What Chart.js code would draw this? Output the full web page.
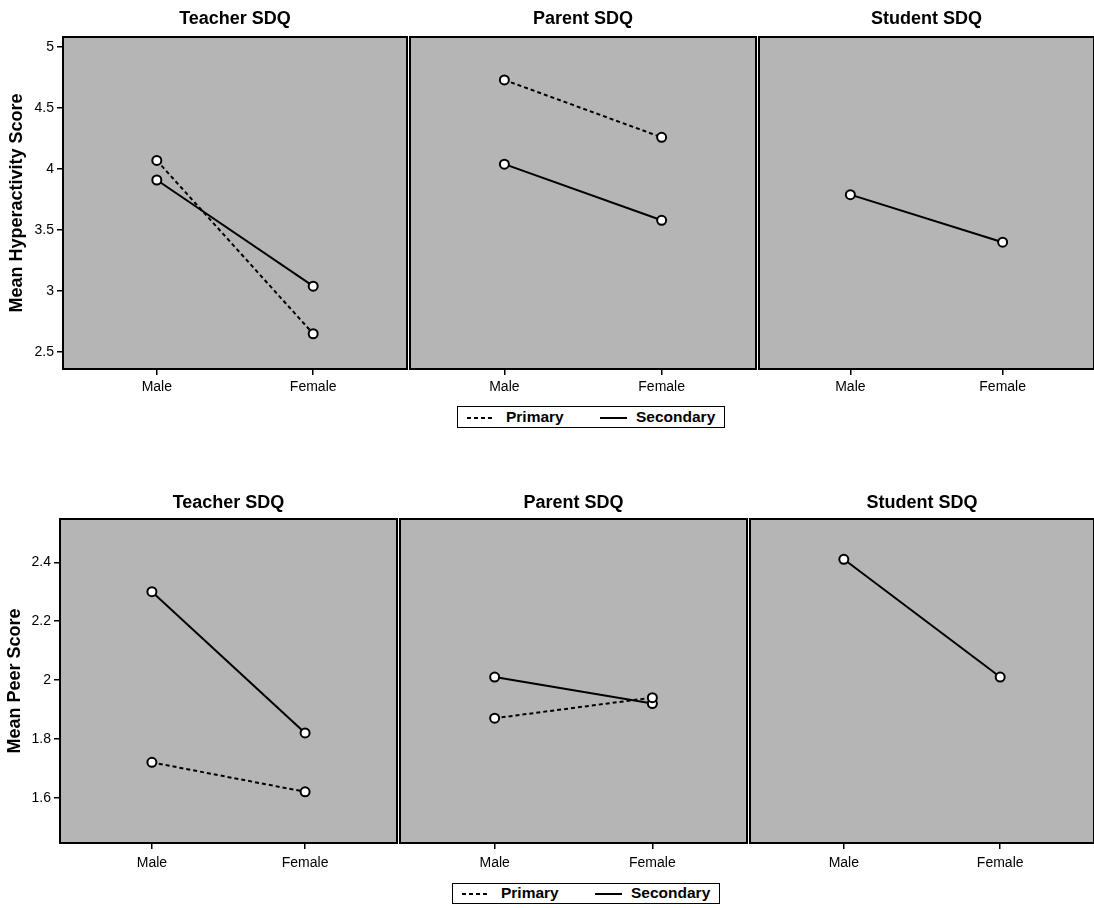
<!DOCTYPE html>
<html>
<head>
<meta charset="utf-8">
<script src="https://cdn.jsdelivr.net/npm/chart.js@4.4.0/dist/chart.umd.min.js"></script>
<style>
  body { margin: 0; background: #fff; width: 1094px; height: 908px; position: relative; overflow: hidden;
         font-family: "Liberation Sans", Arial, sans-serif; }
  canvas { position: absolute; }
  .legend { position: absolute; border: 1px solid #000; background: #fff; box-sizing: border-box;
            font-weight: bold; font-size: 15.5px; color: #000; }
  .legend span, .legend svg { position: absolute; }
</style>
</head>
<body>
<canvas id="hypTeacher" width="408" height="400" style="left:0;top:0"></canvas>
<canvas id="hypParent" width="349" height="400" style="left:408px;top:0"></canvas>
<canvas id="hypStudent" width="337" height="400" style="left:757px;top:0"></canvas>

<canvas id="peerTeacher" width="398" height="395" style="left:0;top:482px"></canvas>
<canvas id="peerParent" width="350" height="395" style="left:398px;top:482px"></canvas>
<canvas id="peerStudent" width="346" height="395" style="left:748px;top:482px"></canvas>

<div class="legend" style="left:457px;top:406px;width:268px;height:22px">
  <svg style="left:9px;top:9px" width="28" height="4"><line x1="0" y1="2" x2="28" y2="2" stroke="#000" stroke-width="2" stroke-dasharray="4,3"/></svg>
  <span style="left:48px;top:1px">Primary</span>
  <svg style="left:142px;top:9px" width="27" height="4"><line x1="0" y1="2" x2="27" y2="2" stroke="#000" stroke-width="2"/></svg>
  <span style="left:178px;top:1px">Secondary</span>
</div>
<div class="legend" style="left:452px;top:883px;width:268px;height:21px">
  <svg style="left:9px;top:8px" width="28" height="4"><line x1="0" y1="2" x2="28" y2="2" stroke="#000" stroke-width="2" stroke-dasharray="4,3"/></svg>
  <span style="left:48px;top:0px">Primary</span>
  <svg style="left:142px;top:8px" width="27" height="4"><line x1="0" y1="2" x2="27" y2="2" stroke="#000" stroke-width="2"/></svg>
  <span style="left:178px;top:0px">Secondary</span>
</div>

<script>
// categories on the x axis
const categories = ['Male', 'Female'];

// Mean Hyperactivity Score (top row)
const hypTicks = [2.5, 3, 3.5, 4, 4.5, 5];
const hypTeacherPrimary = [4.07, 2.65];
const hypTeacherSecondary = [3.91, 3.04];
const hypParentPrimary = [4.73, 4.26];
const hypParentSecondary = [4.04, 3.58];
const hypStudentSecondary = [3.79, 3.40];

// Mean Peer Score (bottom row)
const peerTicks = [1.6, 1.8, 2, 2.2, 2.4];
const peerTeacherPrimary = [1.72, 1.62];
const peerTeacherSecondary = [2.30, 1.82];
const peerParentPrimary = [1.87, 1.94];
const peerParentSecondary = [2.01, 1.92];
const peerStudentSecondary = [2.41, 2.01];

const FONT = '"Liberation Sans", Arial, sans-serif';

// gray plot background with a black frame
const framePlugin = {
  id: 'frame',
  beforeDraw(chart) {
    const { ctx, chartArea: a } = chart;
    ctx.save();
    ctx.fillStyle = '#b5b5b5';
    ctx.fillRect(a.left, a.top, a.width, a.height);
    ctx.strokeStyle = '#000';
    ctx.lineWidth = 2;
    ctx.strokeRect(a.left, a.top, a.width, a.height);
    ctx.restore();
  }
};

function lineSet(label, values, dashed) {
  return {
    label: label,
    data: values.map((v, i) => ({ x: i, y: v })),
    borderColor: '#000',
    borderWidth: 2,
    borderDash: dashed ? [4, 3] : [],
    pointRadius: 4.5,
    pointBorderWidth: 2,
    pointBackgroundColor: '#fff',
    pointBorderColor: '#000',
    tension: 0
  };
}

function makePanel(id, cfg) {
  const datasets = [];
  if (cfg.primary) datasets.push(lineSet('Primary', cfg.primary, true));
  if (cfg.secondary) datasets.push(lineSet('Secondary', cfg.secondary, false));

  return new Chart(document.getElementById(id), {
    type: 'line',
    data: { datasets: datasets },
    plugins: [framePlugin],
    options: {
      responsive: false,
      animation: false,
      layout: {
        autoPadding: false,
        padding: { left: cfg.padLeft || 0, right: cfg.padRight || 0, top: 0, bottom: 0 }
      },
      plugins: {
        legend: { display: false },
        tooltip: { enabled: false },
        title: {
          display: true,
          text: cfg.title,
          fullSize: false,
          color: '#000',
          font: { family: FONT, size: 18, weight: 'bold', lineHeight: 1.2 },
          padding: { top: cfg.titleTop, bottom: cfg.titleBottom }
        }
      },
      scales: {
        x: {
          type: 'linear',
          min: -0.6,
          max: 1.6,
          afterBuildTicks: s => { s.ticks = categories.map((c, i) => ({ value: i })); },
          afterFit: s => { s.height = cfg.xHeight; },
          grid: { drawOnChartArea: false, drawTicks: true, tickLength: 6, color: '#000', lineWidth: 1.5 },
          border: { display: false },
          ticks: {
            color: '#000',
            font: { family: FONT, size: 14 },
            padding: cfg.xPad,
            maxRotation: 0,
            autoSkip: false,
            callback: v => categories[v]
          }
        },
        y: {
          display: !!cfg.yTitle,
          min: cfg.yMin,
          max: cfg.yMax,
          afterBuildTicks: s => { s.ticks = cfg.yTicks.map(v => ({ value: v })); },
          afterFit: s => { if (cfg.yWidth) s.width = cfg.yWidth; },
          grid: { drawOnChartArea: false, drawTicks: true, tickLength: 6, color: '#000', lineWidth: 1.5 },
          border: { display: false },
          ticks: {
            color: '#000',
            font: { family: FONT, size: 14 },
            padding: 3,
            callback: v => String(Math.round(v * 10) / 10)
          },
          title: {
            display: !!cfg.yTitle,
            text: cfg.yTitle,
            color: '#000',
            font: { family: FONT, size: 18, weight: 'bold', lineHeight: 1.2 },
            padding: { top: cfg.yTitlePad || 5, bottom: 0 }
          }
        }
      }
    }
  });
}

// top row
const hypRow = { yMin: 2.361, yMax: 5.082, yTicks: hypTicks, xHeight: 31, xPad: 4, titleTop: 8.2, titleBottom: 7.2 };
makePanel('hypTeacher', Object.assign({}, hypRow, {
  title: 'Teacher SDQ', primary: hypTeacherPrimary, secondary: hypTeacherSecondary,
  yTitle: 'Mean Hyperactivity Score', yWidth: 63, yTitlePad: 6, padRight: 1
}));
makePanel('hypParent', Object.assign({}, hypRow, {
  title: 'Parent SDQ', primary: hypParentPrimary, secondary: hypParentSecondary, padLeft: 2, padRight: 1
}));
makePanel('hypStudent', Object.assign({}, hypRow, {
  title: 'Student SDQ', secondary: hypStudentSecondary, padLeft: 2, padRight: 0
}));

// bottom row
const peerRow = { yMin: 1.446, yMax: 2.547, yTicks: peerTicks, xHeight: 34, xPad: 6, titleTop: 9.9, titleBottom: 5.5 };
makePanel('peerTeacher', Object.assign({}, peerRow, {
  title: 'Teacher SDQ', primary: peerTeacherPrimary, secondary: peerTeacherSecondary,
  yTitle: 'Mean Peer Score', yWidth: 60, yTitlePad: 4, padRight: 1
}));
makePanel('peerParent', Object.assign({}, peerRow, {
  title: 'Parent SDQ', primary: peerParentPrimary, secondary: peerParentSecondary, padLeft: 2, padRight: 1
}));
makePanel('peerStudent', Object.assign({}, peerRow, {
  title: 'Student SDQ', secondary: peerStudentSecondary, padLeft: 2, padRight: 0
}));
</script>
</body>
</html>
